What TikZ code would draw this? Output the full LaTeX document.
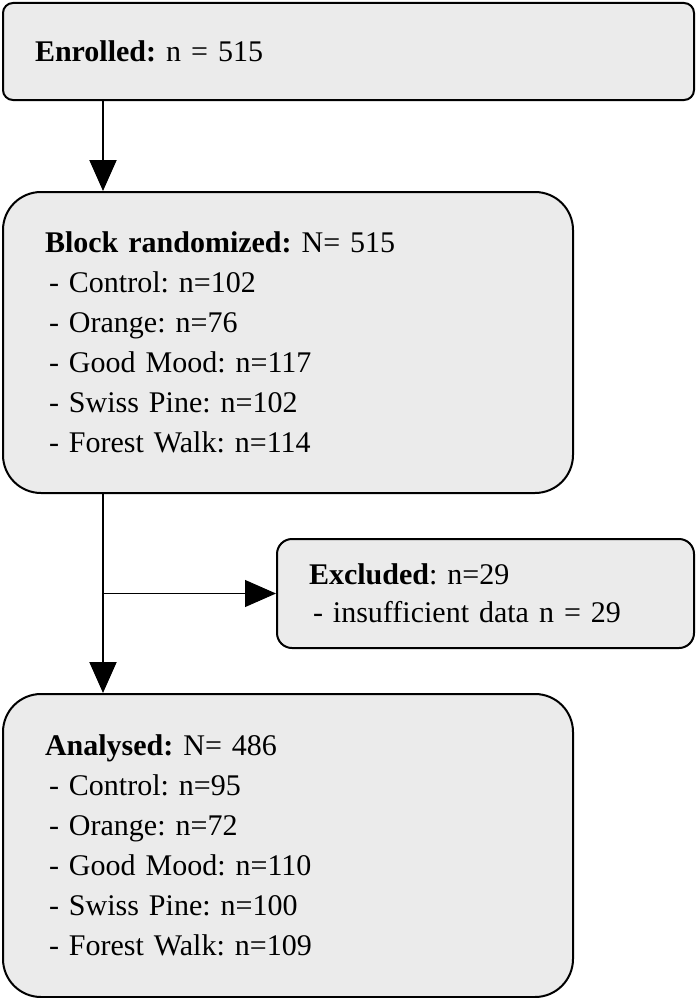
\documentclass[tikz,border=0pt]{standalone}
\usepackage{fontspec}
\setmainfont{Liberation Serif}
\usepackage{tikz}
\usetikzlibrary{arrows.meta,positioning}

\definecolor{boxgray}{HTML}{EBEBEB}
\frenchspacing

\begin{document}
\begin{tikzpicture}[x=1pt,y=-1pt,
                    font=\fontsize{30}{40}\selectfont,
                    >={Triangle[length=31pt,width=27pt]},
                    semithick]
  \tikzset{flowbox/.style={draw=black,line width=2pt,fill=boxgray,
                           align=left,inner ysep=0pt},
           mainarrow/.style={->,line width=2pt},
           sidearrow/.style={->,line width=1pt}}
  \useasboundingbox (0,0) rectangle (699,998);

  \node[flowbox,rounded corners=10pt,minimum width=691pt,minimum height=97pt,
        text width=627pt,inner xsep=32pt]  (enrolled) at (348.5,51.5)
        {\textbf{Enrolled:} n = 515};
  \node[flowbox,rounded corners=38pt,minimum width=570pt,minimum height=301pt,
        text width=486pt,inner xsep=42pt]
        (block) [below right=90pt and 0pt of enrolled.south west]
        {\textbf{Block randomized:} N= 515\\
         \hspace*{4pt}- Control: n=102\\
         \hspace*{4pt}- Orange: n=76\\
         \hspace*{4pt}- Good Mood: n=117\\
         \hspace*{4pt}- Swiss Pine: n=102\\
         \hspace*{4pt}- Forest Walk: n=114};
  \node[flowbox,rounded corners=15pt,minimum width=417pt,minimum height=109pt,
        text width=353pt,inner xsep=32pt,
        font=\fontsize{30}{38}\selectfont]
        (excluded) [below right=44pt and 274pt of block.south west]
        {\textbf{Excluded}: n=29\\
         \hspace*{4pt}- insufficient data n = 29};
  \node[flowbox,rounded corners=38pt,minimum width=570pt,minimum height=303pt,
        text width=486pt,inner xsep=42pt]
        (analysed) [below right=199pt and 0pt of block.south west]
        {\textbf{Analysed:} N= 486\\
         \hspace*{4pt}- Control: n=95\\
         \hspace*{4pt}- Orange: n=72\\
         \hspace*{4pt}- Good Mood: n=110\\
         \hspace*{4pt}- Swiss Pine: n=100\\
         \hspace*{4pt}- Forest Walk: n=109};

  \coordinate (spine) at (103,0);

  \draw[mainarrow] (enrolled.south -| spine) -- (block.north -| spine);
  \draw[mainarrow] (block.south -| spine) -- (analysed.north -| spine);
  \draw[sidearrow] (spine |- excluded.west) -- (excluded.west);
\end{tikzpicture}
\end{document}
